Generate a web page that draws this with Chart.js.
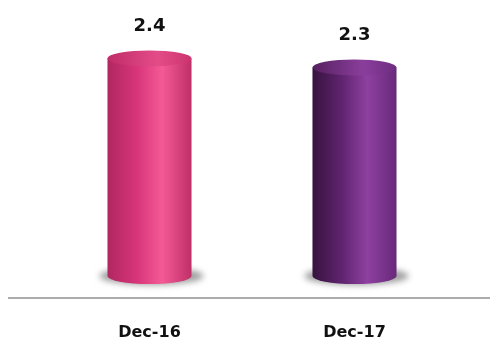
<!DOCTYPE html>
<html>
<head>
<meta charset="utf-8">
<script src="https://cdn.jsdelivr.net/npm/chart.js@4"></script>
<style>
  html, body { margin: 0; padding: 0; background: #fff; }
  #wrap { width: 490px; height: 342px; }
</style>
</head>
<body>
<div id="wrap"><canvas id="cylinder-chart" width="490" height="342"></canvas></div>
<script>
const periods = ['Dec-16', 'Dec-17'];
const values = [2.4, 2.3];

// gradient stops for each cylinder: [body stops], [cap stops]
const bodyStops = [
  [[0, '#b02760'], [0.35, '#d8357a'], [0.65, '#f45a95'], [1, '#c02f68']],
  [[0, '#36133f'], [0.35, '#60246f'], [0.65, '#8e40a0'], [1, '#68297a']]
];
const capStops = [
  [[0, '#bf2c68'], [0.6, '#e44c88'], [1, '#cc3470']],
  [[0, '#56205f'], [0.6, '#8a3e9c'], [1, '#6e2c80']]
];

const hGrad = (ctx, left, right, stops) => {
  const g = ctx.createLinearGradient(left, 0, right, 0);
  stops.forEach(s => g.addColorStop(s[0], s[1]));
  return g;
};

// draws each bar as a shaded cylinder with a soft floor shadow
const cylinderPlugin = {
  id: 'cylinders',
  afterDatasetsDraw(chart) {
    const ctx = chart.ctx;
    const meta = chart.getDatasetMeta(0);
    meta.data.forEach((bar, i) => {
      const rx = bar.width / 2;
      const ry = 8;
      const left = bar.x - rx;
      const right = bar.x + rx;
      const top = bar.y;
      const base = bar.base;

      ctx.save();
      ctx.filter = 'blur(3px)';
      ctx.fillStyle = 'rgba(60,60,60,0.5)';
      ctx.beginPath();
      ctx.ellipse(bar.x + 2, base, rx + 10, ry + 1, 0, 0, Math.PI * 2);
      ctx.fill();
      ctx.restore();

      ctx.save();
      ctx.fillStyle = hGrad(ctx, left, right, bodyStops[i]);
      ctx.beginPath();
      ctx.moveTo(left, top);
      ctx.lineTo(left, base);
      ctx.ellipse(bar.x, base, rx, ry, 0, Math.PI, 0, true);
      ctx.lineTo(right, top);
      ctx.closePath();
      ctx.fill();

      ctx.fillStyle = hGrad(ctx, left, right, capStops[i]);
      ctx.beginPath();
      ctx.ellipse(bar.x, top, rx, ry, 0, 0, Math.PI * 2);
      ctx.fill();
      ctx.restore();

      ctx.save();
      ctx.font = 'bold 18px "DejaVu Sans"';
      ctx.fillStyle = '#111';
      ctx.textAlign = 'center';
      ctx.textBaseline = 'middle';
      ctx.fillText(values[i].toFixed(1), bar.x, top - 32);
      ctx.restore();
    });

    // floor line under the bars
    const lineY = chart.chartArea.bottom + 22;
    ctx.save();
    ctx.strokeStyle = '#acacac';
    ctx.lineWidth = 2;
    ctx.beginPath();
    ctx.moveTo(8, lineY);
    ctx.lineTo(chart.width, lineY);
    ctx.stroke();
    ctx.restore();
  }
};

new Chart(document.getElementById('cylinder-chart').getContext('2d'), {
  type: 'bar',
  data: {
    labels: periods,
    datasets: [{
      data: values,
      backgroundColor: 'rgba(0,0,0,0)',
      borderWidth: 0,
      barPercentage: 0.41,
      categoryPercentage: 1
    }]
  },
  options: {
    responsive: false,
    animation: false,
    layout: { padding: { top: 4, left: 47, right: 33, bottom: 2 } },
    plugins: {
      legend: { display: false },
      tooltip: { enabled: false }
    },
    scales: {
      x: {
        grid: { display: false, drawTicks: false },
        border: { display: false },
        afterFit(scale) { scale.height = 64; },
        ticks: {
          padding: 47,
          color: '#111',
          font: { family: 'DejaVu Sans', size: 16, weight: 'bold' }
        }
      },
      y: {
        display: false,
        min: 0,
        max: 3
      }
    }
  },
  plugins: [cylinderPlugin]
});
</script>
</body>
</html>
